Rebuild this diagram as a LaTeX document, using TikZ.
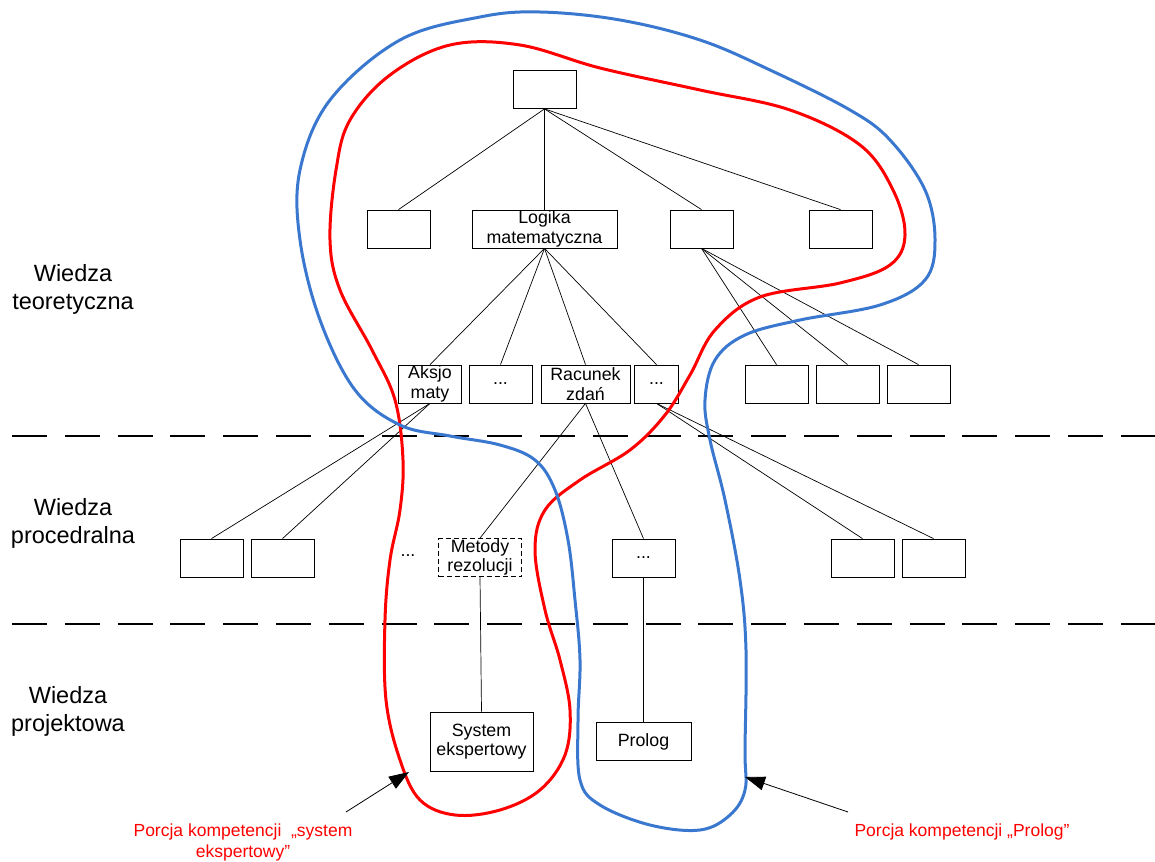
\documentclass[tikz,border=0pt]{standalone}
\usepackage{fontspec}
\setmainfont{Liberation Sans}
\usetikzlibrary{arrows.meta}
\definecolor{hullred}{RGB}{255,0,0}
\definecolor{hullblue}{RGB}{58,120,208}
\begin{document}
\begin{tikzpicture}[x=1pt,y=-1pt,
  box/.style={draw, line width=0.8pt, inner sep=0pt, minimum width=63pt, minimum height=38pt,
    align=center, font=\fontsize{17.8}{19.5}\selectfont},
  dbox/.style={box, dash pattern=on 5pt off 3pt},
  link/.style={line width=0.7pt},
  level/.style={align=center, font=\fontsize{23.5}{28}\selectfont},
  sep/.style={line width=1.8pt, dash pattern=on 35pt off 17.8pt},
  hull/.style={line width=3pt},
  note/.style={text=hullred, align=center, font=\fontsize{17.5}{21}\selectfont},
  pointer/.style={line width=0.8pt, -{Triangle[length=20pt,width=14pt]}}]
\useasboundingbox (0,0) rectangle (1155,861);

% level separators
\draw[sep] (12,436) -- (1160,436);
\draw[sep] (12,624) -- (1160,624);

% level labels
\node[level] (lt) at (73,289) {Wiedza\\teoretyczna};
\node[level] (lp) at (73,523) {Wiedza\\procedralna};
\node[level] (lj) at (68,711) {Wiedza\\projektowa};

% tree of theory
\node[box] (root) at (544.5,89.5) {};
\node[box] (a1) at (398.5,229) {};
\node[box, minimum width=145pt] (logic) at (544.5,229) {Logika\\matematyczna};
\node[box] (a3) at (701.5,229) {};
\node[box] (a4) at (840.5,229) {};

\node[box] (ax) at (430,384) {Aksjo\\maty};
\node[box] (b2) at (500.5,384) {...};
\node[box, minimum width=89pt] (rz) at (585.5,384) {Racunek\\zdań};
\node[box, minimum width=44pt] (b4) at (656.5,384) {...};
\node[box] (c1) at (776.5,384) {};
\node[box] (c2) at (847.5,384) {};
\node[box] (c3) at (918.5,384) {};

% procedural knowledge
\node[font=\fontsize{17.8}{19}\selectfont] (pdots) at (408,556) {...};
\node[box] (p1) at (211.5,558) {};
\node[box] (p2) at (282.5,558) {};
\node[dbox, minimum width=83pt] (met) at (480,557.5) {Metody\\rezolucji};
\node[box] (p4) at (643.5,558) {...};
\node[box] (p5) at (862.5,558) {};
\node[box] (p6) at (933.5,558) {};

% project knowledge
\node[box, minimum width=103pt, minimum height=59pt] (se) at (481.5,741.5) {System\\ekspertowy};
\node[box, minimum width=95pt, minimum height=38pt] (pro) at (643.5,741.5) {Prolog};

% connectors
\foreach \t in {a1,logic,a3,a4} \draw[link] (root.south) -- (\t.north);
\foreach \t in {ax,b2,rz,b4} \draw[link] (logic.south) -- (\t.north);
\foreach \t in {c1,c2,c3} \draw[link] (a3.south) -- (\t.north);
\foreach \t in {p1,p2} \draw[link] (ax.south) -- (\t.north);
\foreach \t in {met,p4} \draw[link] (rz.south) -- (\t.north);
\foreach \t in {p5,p6} \draw[link] (b4.south) -- (\t.north);
\draw[link] (met.south) -- (se.north);
\draw[link] (p4.south) -- (pro.north);

% competence portion: expert system
\draw[hull, hullred] plot[smooth cycle, tension=0.6] coordinates {
  (450,45) (520,45) (600,68) (700,90) (790,110) (860,145) (893,190) (905,235)
  (890,265) (840,283) (760,297) (715,330) (690,375) (665,415) (630,450)
  (580,480) (545,510) (535,550) (545,610) (560,660) (570,710) (565,755)
  (540,790) (500,810) (455,815) (420,800) (400,760) (386,700) (385,620)
  (390,560) (400,510) (403,460) (395,400) (372,350) (340,290) (330,240)
  (336,170) (350,120) (390,75)};

% competence portion: Prolog
\draw[hull, hullblue] plot[smooth cycle, tension=0.6] coordinates {
  (540,12) (620,20) (700,40) (770,70) (850,110) (890,140) (925,190) (935,240)
  (925,280) (880,305) (800,320) (745,335) (715,360) (705,400) (710,440)
  (725,500) (740,580) (746,650) (745,750) (745,790) (730,815) (700,830)
  (650,825) (600,805) (580,780) (578,720) (580,660) (575,600) (568,540)
  (555,490) (535,460) (500,445) (450,436) (400,425) (355,390) (320,320)
  (300,240) (300,170) (330,100) (400,40) (480,17)};

% annotations
\coordinate (s1) at (346,812);
\coordinate (e1) at (409,772);
\coordinate (s2) at (848,812);
\coordinate (e2) at (745,777);
\draw[pointer] (s1) -- (e1);
\draw[pointer] (s2) -- (e2);
\node[note] (n1) at (243,842) {Porcja kompetencji\ \ „system\\ekspertowy”};
\node[note] (n2) at (962,832) {Porcja kompetencji „Prolog”};
\end{tikzpicture}
\end{document}
